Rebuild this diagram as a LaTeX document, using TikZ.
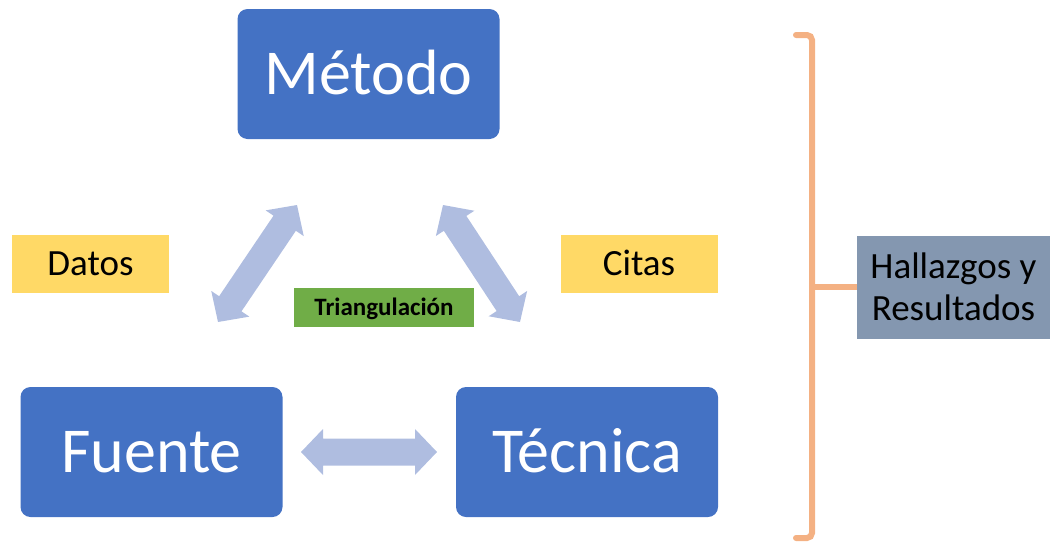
\documentclass[tikz,border=0pt]{standalone}
\usepackage{fontspec}
\setmainfont{Carlito}
\usetikzlibrary{calc}
\definecolor{boxblue}{HTML}{4472C4}
\definecolor{ylwc}{HTML}{FFD966}
\definecolor{grnc}{HTML}{70AD47}
\definecolor{greyc}{HTML}{8497B0}
\definecolor{bracec}{HTML}{F4B183}
\definecolor{arrowc}{HTML}{AFBDE0}
\tikzset{
 bigbox/.style={fill=boxblue, rounded corners=10pt, minimum width=262pt, minimum height=130pt, inner sep=0pt, text=white, font=\fontsize{64}{76}\selectfont, text height=41pt, text depth=0pt},
 ylwbox/.style={fill=ylwc, minimum width=157pt, minimum height=58pt, inner sep=0pt, font=\fontsize{37}{44}\selectfont, text height=23pt, text depth=0pt},
 grnbox/.style={fill=grnc, minimum width=180pt, minimum height=39pt, inner sep=0pt, font=\fontsize{25}{30}\selectfont\bfseries, text height=16pt, text depth=0pt},
 greybox/.style={fill=greyc, minimum width=193pt, minimum height=103pt, inner sep=0pt, font=\fontsize{37}{42}\selectfont, align=center},
 bracestyle/.style={draw=bracec, line width=6pt, rounded corners=5pt, line cap=round}
}
\newcommand\blockarrow[2]{%
 \fill[arrowc] let \p1=(#1), \p2=(#2), \n1={atan2(\y2-\y1,\x2-\x1)} in
 (#1) -- ($(#1)+(\n1:22pt)+(\n1+90:23pt)$) -- ($(#1)+(\n1:22pt)+(\n1+90:13.5pt)$)
 -- ($(#2)+(\n1:-22pt)+(\n1+90:13.5pt)$) -- ($(#2)+(\n1:-22pt)+(\n1+90:23pt)$)
 -- (#2) -- ($(#2)+(\n1:-22pt)+(\n1-90:23pt)$) -- ($(#2)+(\n1:-22pt)+(\n1-90:13.5pt)$)
 -- ($(#1)+(\n1:22pt)+(\n1-90:13.5pt)$) -- ($(#1)+(\n1:22pt)+(\n1-90:23pt)$) -- cycle;}
\begin{document}
\begin{tikzpicture}[x=1pt,y=-1pt]
\useasboundingbox (0,0) rectangle (1050,544);
\node[bigbox] (metodo) at (368.5,74) {Método};
\node[bigbox] (fuente) at (151.5,452) {Fuente};
\node[bigbox] (tecnica) at (587,452) {Técnica};
\node[ylwbox] (datos) at (90.5,264) {Datos};
\node[ylwbox] (citas) at (639,264) {Citas};
\node[grnbox] (triang) at (384,307.5) {Triangulación};
\node[greybox] (hallazgos) at (953.5,287) {Hallazgos y\\Resultados};
% arrow end points
\coordinate (l1) at (218,322);
\coordinate (l2) at (297,205);
\coordinate (r1) at (443,205);
\coordinate (r2) at (520,322);
\coordinate (h1) at (301,452);
\coordinate (h2) at (437,452);
\blockarrow{l1}{l2}
\blockarrow{r1}{r2}
\blockarrow{h1}{h2}
% brace
\coordinate (btop) at (796,35);
\coordinate (bbot) at (796,538);
\coordinate (bmid) at (812,287);
\draw[bracestyle] (btop) -- (812,35) -- (bmid) -- (812,538) -- (bbot);
\draw[draw=bracec, line width=6pt] (bmid) -- (hallazgos.west);
\end{tikzpicture}
\end{document}
